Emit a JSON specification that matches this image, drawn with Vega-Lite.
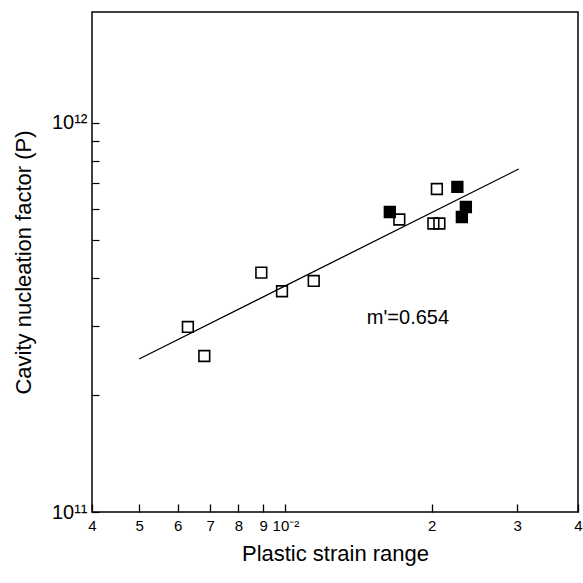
{
  "$schema": "https://vega.github.io/schema/vega-lite/v6.json",
  "width": 486,
  "height": 500,
  "autosize": "none",
  "padding": {"left": 92, "top": 12, "right": 5, "bottom": 71},
  "background": "white",
  "config": {
    "font": "Liberation Sans",
    "view": {"stroke": "black", "strokeWidth": 1.5},
    "axis": {"grid": false, "domain": false, "tickColor": "black", "tickWidth": 1.2, "labelColor": "black", "titleColor": "black", "titleFontWeight": "normal", "labelFont": "Liberation Sans", "titleFont": "Liberation Sans"}
  },
  "datasets": {
    "points": [
      {"strain": 0.0063, "P": 2.990e11, "type": "open"},
      {"strain": 0.00681, "P": 2.518e11, "type": "open"},
      {"strain": 0.008922, "P": 4.123e11, "type": "open"},
      {"strain": 0.00984, "P": 3.693e11, "type": "open"},
      {"strain": 0.011437, "P": 3.926e11, "type": "open"},
      {"strain": 0.0164, "P": 5.904e11, "type": "filled"},
      {"strain": 0.017155, "P": 5.648e11, "type": "open"},
      {"strain": 0.020497, "P": 6.767e11, "type": "open"},
      {"strain": 0.022586, "P": 6.848e11, "type": "filled"},
      {"strain": 0.02016, "P": 5.516e11, "type": "open"},
      {"strain": 0.020741, "P": 5.516e11, "type": "open"},
      {"strain": 0.023514, "P": 6.082e11, "type": "filled"},
      {"strain": 0.023072, "P": 5.732e11, "type": "filled"}
    ],
    "fit": [
      {"strain": 0.005, "P": 2.474e11},
      {"strain": 0.0302, "P": 7.615e11}
    ],
    "note": [
      {"strain": 0.01471, "P": 3.15e11, "label": "m'=0.654"}
    ]
  },
  "encoding": {
    "x": {
      "field": "strain", "type": "quantitative",
      "scale": {"type": "log", "domain": [0.004, 0.04]},
      "axis": {
        "values": [0.004, 0.005, 0.006, 0.007, 0.008, 0.009, 0.01, 0.02, 0.03, 0.04],
        "labelExpr": "datum.value == 0.01 ? '10⁻²' : format(round(datum.value * (datum.value < 0.01 ? 1000 : 100)), 'd')",
        "ticks": true,
        "tickSize": -8,
        "tickColor": "black",
        "tickWidth": 1.3,
        "labelFontSize": 15,
        "labelPadding": 14,
        "labelFlush": false,
        "labelOverlap": false,
        "encoding": {
          "labels": {
            "fontSize": {"signal": "datum.value == 0.01 ? 20 : 15"},
            "dy": {"signal": "datum.value == 0.01 ? 6 : 0"}
          },
          "ticks": {
            "y2": {"signal": "datum.value == 0.01 ? -12 : -8"}
          }
        },
        "title": "Plastic strain range",
        "titleFontSize": 22,
        "titlePadding": 10
      }
    },
    "y": {
      "field": "P", "type": "quantitative",
      "scale": {"type": "log", "domain": [1e11, 1.929e12]},
      "axis": {
        "values": [1e11, 2e11, 3e11, 4e11, 5e11, 6e11, 7e11, 8e11, 9e11, 1e12],
        "labelExpr": "datum.value == 100000000000 ? '10¹¹' : (datum.value == 1000000000000 ? '10¹²' : '')",
        "tickSize": -7,
        "labelFontSize": 20,
        "labelPadding": 12,
        "labelFlush": false,
        "labelOverlap": false,
        "encoding": {
          "labels": {
            "dy": {"signal": "datum.value == 100000000000 ? -5 : 0"}
          }
        },
        "title": "Cavity nucleation factor (P)",
        "titleFontSize": 22,
        "titlePadding": 16
      }
    }
  },
  "layer": [
    {
      "data": {"name": "fit"},
      "mark": {"type": "line", "color": "black", "strokeWidth": 1.3}
    },
    {
      "data": {"name": "points"},
      "mark": {"type": "point", "shape": "square", "size": 115, "filled": true, "opacity": 1, "stroke": "black", "strokeWidth": 1.6},
      "encoding": {
        "fill": {"field": "type", "type": "nominal", "scale": {"domain": ["open", "filled"], "range": ["rgba(0,0,0,0)", "black"]}, "legend": null}
      }
    },
    {
      "data": {"name": "note"},
      "mark": {"type": "text", "align": "left", "baseline": "middle", "fontSize": 20, "color": "black"},
      "encoding": {"text": {"field": "label"}}
    }
  ]
}
